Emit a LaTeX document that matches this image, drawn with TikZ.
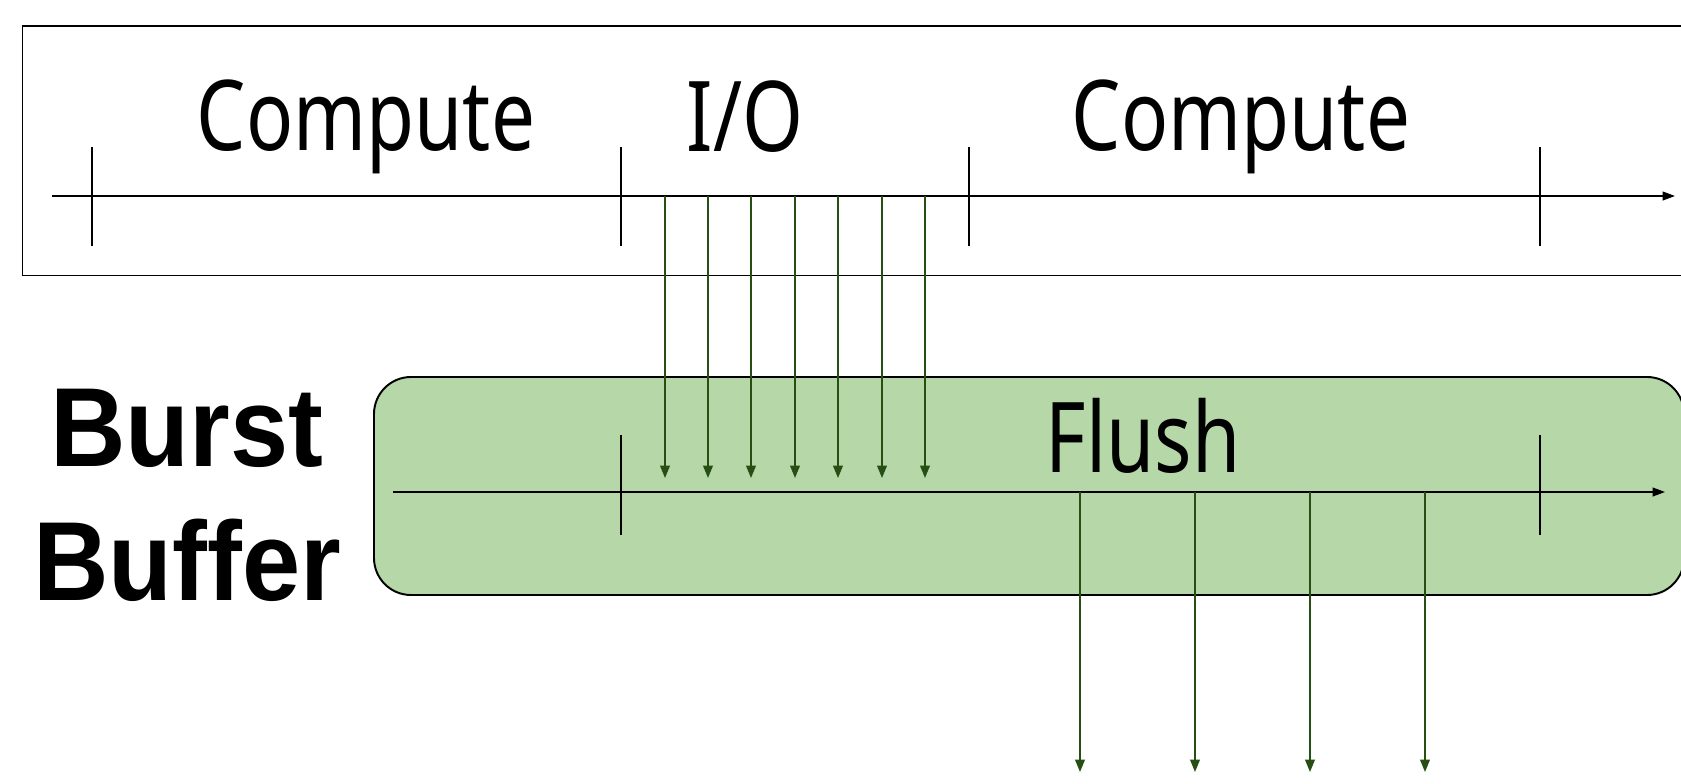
\documentclass[tikz,border=0pt]{standalone}
\usepackage{fontspec}
\usetikzlibrary{arrows.meta}
\newfontfamily\phasefont[FakeStretch=0.8]{Noto Sans}
\newfontfamily\tierfont[FakeStretch=0.93]{Liberation Sans}
\definecolor{bbgreen}{HTML}{B6D7A8}
\definecolor{arrowgreen}{HTML}{274E13}
\begin{document}
\begin{tikzpicture}[x=0.02cm,y=-0.02cm,
  frame/.style={draw=black,line width=1.1pt},
  axis/.style={draw=black,line width=0.85pt,-{Triangle[length=7pt,width=5pt]}},
  tickmark/.style={draw=black,line width=0.85pt},
  transfer/.style={draw=arrowgreen,line width=0.9pt,-{Triangle[length=7pt,width=5.5pt]}},
  phase/.style={font=\phasefont\fontsize{55.6}{60}\selectfont,anchor=base,inner sep=0pt},
  tier/.style={font=\tierfont\bfseries\fontsize{64}{70}\selectfont,anchor=base,inner sep=0pt},
]
\useasboundingbox (0,0) rectangle (1681,784);
\clip (0,0) rectangle (1681,784);

% compute node timeline frame
\draw[frame] (22.5,25.7) rectangle (1720,275.5);
% burst buffer frame
\draw[frame,fill=bbgreen,rounded corners=0.74cm] (374,377) rectangle (1684,595);

% timelines
\coordinate (top-start) at (51.5,196);
\coordinate (top-end) at (1675,196);
\draw[axis] (top-start) -- (top-end);
\coordinate (bb-start) at (393,492);
\coordinate (bb-end) at (1665,492);
\draw[axis] (bb-start) -- (bb-end);

% phase boundaries
\foreach \x in {92,621,969,1540}
  \draw[tickmark] (\x,147) -- (\x,246);
\foreach \x in {621,1540}
  \draw[tickmark] (\x,435) -- (\x,535);

% I/O bursts into the buffer
\foreach \i/\x in {1/665,2/708,3/751,4/795,5/838,6/882,7/925}{
  \coordinate (io\i) at (\x,196);
  \coordinate (io\i-end) at (\x,478);
  \draw[transfer] (io\i) -- (io\i-end);
}
% flushes out of the buffer
\foreach \i/\x in {1/1080,2/1195,3/1310,4/1425}{
  \coordinate (fl\i) at (\x,492);
  \coordinate (fl\i-end) at (\x,772);
  \draw[transfer] (fl\i) -- (fl\i-end);
}

% labels
\node[phase] (compute1) at (366,151) {Compute};
\node[phase] (io) at (745,152) {I/O};
\node[phase] (compute2) at (1241,151) {Compute};
\node[phase] (flush) at (1143,472) {Flush};
\node[tier] (burst) at (187,466) {Burst};
\node[tier] (buffer) at (187,600) {Buffer};
\end{tikzpicture}
\end{document}
